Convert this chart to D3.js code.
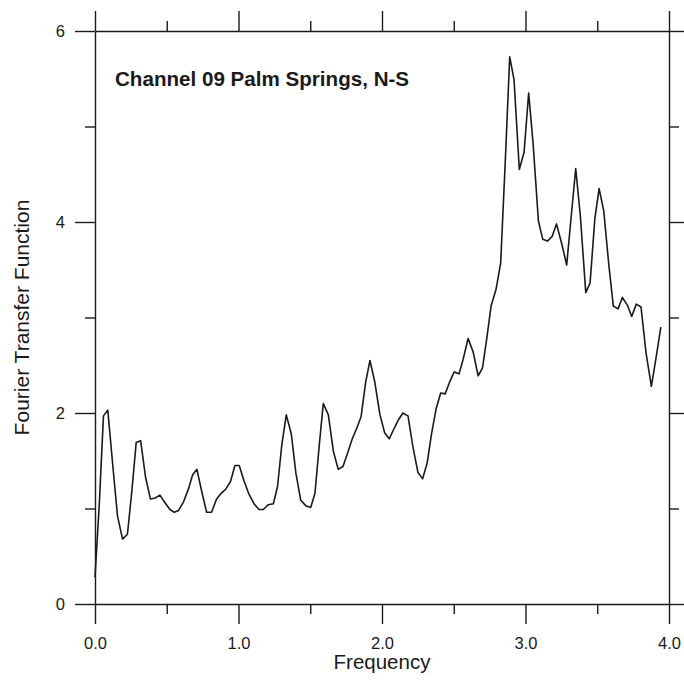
<!DOCTYPE html>
<html>

<head>
    <meta charset="UTF-8">
    <style>
        body { margin: 0; background: #fff; }
        svg { font-family: "Liberation Sans", Arial, sans-serif; }
    </style>
</head>

<body>
    <svg></svg>
    <script src="https://d3js.org/d3.v7.min.js"></script>

    <script>

        let width = 684, height = 682;

        // Frequency samples and transfer function values
        let freq = [0.000, 0.030, 0.059, 0.089, 0.124, 0.157, 0.192, 0.226, 0.258, 0.287,
            0.318, 0.352, 0.386, 0.420, 0.452, 0.488, 0.522, 0.553, 0.582, 0.617,
            0.650, 0.680, 0.710, 0.745, 0.778, 0.812, 0.847, 0.880, 0.910, 0.944,
            0.975, 1.005, 1.038, 1.073, 1.108, 1.143, 1.173, 1.208, 1.243, 1.272,
            1.302, 1.333, 1.368, 1.400, 1.433, 1.468, 1.503, 1.533, 1.562, 1.591,
            1.626, 1.661, 1.695, 1.728, 1.758, 1.793, 1.824, 1.854, 1.886, 1.916,
            1.949, 1.986, 2.019, 2.051, 2.085, 2.115, 2.146, 2.181, 2.215, 2.250,
            2.283, 2.315, 2.346, 2.378, 2.409, 2.440, 2.470, 2.503, 2.537, 2.565,
            2.600, 2.635, 2.670, 2.700, 2.730, 2.760, 2.794, 2.827, 2.858, 2.890,
            2.920, 2.957, 2.990, 3.022, 3.053, 3.090, 3.120, 3.153, 3.186, 3.216,
            3.253, 3.287, 3.318, 3.350, 3.383, 3.420, 3.450, 3.483, 3.513, 3.545,
            3.580, 3.612, 3.645, 3.675, 3.710, 3.740, 3.772, 3.805, 3.840, 3.877,
            3.910, 3.943];

        let ftf = [0.28, 1.05, 1.97, 2.03, 1.45, 0.92, 0.68, 0.73, 1.20, 1.69,
            1.71, 1.33, 1.10, 1.11, 1.14, 1.06, 0.99, 0.96, 0.98, 1.07,
            1.20, 1.35, 1.41, 1.17, 0.96, 0.96, 1.10, 1.16, 1.20, 1.28,
            1.45, 1.45, 1.29, 1.15, 1.05, 0.99, 0.99, 1.04, 1.05, 1.23,
            1.67, 1.98, 1.78, 1.37, 1.09, 1.03, 1.01, 1.16, 1.65, 2.10,
            1.98, 1.60, 1.41, 1.44, 1.57, 1.73, 1.84, 1.96, 2.32, 2.55,
            2.33, 1.98, 1.79, 1.73, 1.84, 1.93, 2.00, 1.97, 1.65, 1.38,
            1.31, 1.48, 1.79, 2.05, 2.21, 2.20, 2.32, 2.43, 2.41, 2.56,
            2.78, 2.64, 2.39, 2.47, 2.78, 3.12, 3.29, 3.57, 4.60, 5.73,
            5.49, 4.55, 4.73, 5.35, 4.82, 4.01, 3.82, 3.80, 3.85, 3.98,
            3.77, 3.55, 4.05, 4.56, 4.05, 3.26, 3.36, 4.03, 4.35, 4.12,
            3.56, 3.12, 3.09, 3.21, 3.13, 3.01, 3.14, 3.11, 2.63, 2.28,
            2.58, 2.90];

        let xMajor = [0, 1, 2, 3, 4];
        let xMinor = [0.5, 1.5, 2.5, 3.5];
        let yMajor = [0, 2, 4, 6];
        let yMinor = [1, 3, 5];

        let plotLeft = 95, plotRight = 669, plotTop = 31, plotBottom = 604;

        let svg = d3.select("svg")
            .attr("width", width)
            .attr("height", height)
            .attr("viewBox", "0 0 " + width + " " + height)

        let x = d3.scaleLinear().domain([0, 4]).range([plotLeft, plotRight]);
        let y = d3.scaleLinear().domain([0, 6]).range([plotBottom, plotTop]);

        let ink = "#1a1a1a";

        function styleAxis(g) {
            g.selectAll("path, line").attr("stroke", ink).attr("stroke-width", 1.4);
            g.selectAll("text").attr("fill", ink).style("font-size", "16.5px");
        }

        // bottom
        svg.append("g")
            .attr("transform", "translate(0," + plotBottom + ")")
            .call(d3.axisBottom(x).tickValues(xMajor).tickSize(20).tickSizeOuter(0)
                .tickPadding(13).tickFormat(d3.format(".1f")))
            .call(styleAxis);
        svg.append("g")
            .attr("transform", "translate(0," + plotBottom + ")")
            .call(d3.axisBottom(x).tickValues(xMinor).tickSize(10).tickSizeOuter(0).tickFormat(""))
            .call(g => g.select(".domain").remove())
            .call(styleAxis);

        // top
        svg.append("g")
            .attr("transform", "translate(0," + plotTop + ")")
            .call(d3.axisTop(x).tickValues(xMajor).tickSize(20).tickSizeOuter(0).tickFormat(""))
            .call(styleAxis);
        svg.append("g")
            .attr("transform", "translate(0," + plotTop + ")")
            .call(d3.axisTop(x).tickValues(xMinor).tickSize(10).tickSizeOuter(0).tickFormat(""))
            .call(g => g.select(".domain").remove())
            .call(styleAxis);

        // left
        svg.append("g")
            .attr("transform", "translate(" + plotLeft + ",0)")
            .call(d3.axisLeft(y).tickValues(yMajor).tickSize(20).tickSizeOuter(0)
                .tickPadding(10).tickFormat(d3.format("d")))
            .call(styleAxis);
        svg.append("g")
            .attr("transform", "translate(" + plotLeft + ",0)")
            .call(d3.axisLeft(y).tickValues(yMinor).tickSize(10).tickSizeOuter(0).tickFormat(""))
            .call(g => g.select(".domain").remove())
            .call(styleAxis);

        // right
        svg.append("g")
            .attr("transform", "translate(" + plotRight + ",0)")
            .call(d3.axisRight(y).tickValues(yMajor).tickSize(20).tickSizeOuter(0).tickFormat(""))
            .call(styleAxis);
        svg.append("g")
            .attr("transform", "translate(" + plotRight + ",0)")
            .call(d3.axisRight(y).tickValues(yMinor).tickSize(10).tickSizeOuter(0).tickFormat(""))
            .call(g => g.select(".domain").remove())
            .call(styleAxis);

        // transfer function curve
        let line = d3.line()
            .x((d, i) => x(freq[i]))
            .y(d => y(d));

        svg.append("path")
            .datum(ftf)
            .attr("fill", "none")
            .attr("stroke", ink)
            .attr("stroke-width", 1.6)
            .attr("stroke-linejoin", "round")
            .attr("d", line);

        // title inside the plot
        svg.append("text")
            .attr("x", 115)
            .attr("y", 86)
            .attr("fill", ink)
            .style("font-size", "20.6px")
            .style("font-weight", "bold")
            .text("Channel 09 Palm Springs, N-S");

        // axis titles
        svg.append("text")
            .attr("x", (plotLeft + plotRight) / 2)
            .attr("y", 669)
            .attr("text-anchor", "middle")
            .attr("fill", ink)
            .style("font-size", "20.5px")
            .text("Frequency");

        svg.append("text")
            .attr("transform", "translate(29," + (plotTop + plotBottom) / 2 + ") rotate(-90)")
            .attr("text-anchor", "middle")
            .attr("fill", ink)
            .style("font-size", "21px")
            .text("Fourier Transfer Function");

    </script>
</body>

</html>
